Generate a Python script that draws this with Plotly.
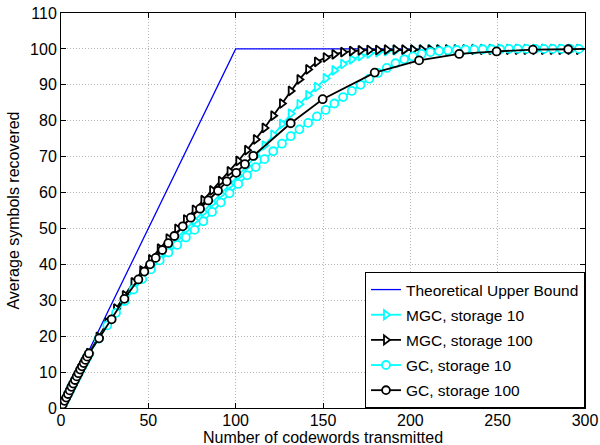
import plotly.graph_objects as go

# ---------------- data ----------------
bound_x = [0, 96, 100, 300]
bound_y = [0, 96.4, 100, 100]

x_dense = [1, 2, 3, 4, 5, 6, 7, 8, 9, 10, 11, 12, 13, 14, 15, 16,
           21.5, 26.5, 31.5, 36.5, 41.5, 46.5, 51.5, 56.5, 61.5, 66.5,
           71.5, 76.5, 81.5, 86.5, 91.5, 96.5, 101.5, 106.5, 111.5, 116.5,
           121.5, 126.5, 131.5, 136.5, 141.5, 146.5, 151.5, 156.5, 161.5, 166.5,
           171.5, 176.5, 181.5, 186.5, 191.5, 196.5, 201.5, 206.5, 211.5, 216.5,
           221.5, 226.5, 231.5, 236.5, 241.5, 246.5, 251.5, 256.5, 261.5, 266.5,
           271.5, 276.5, 281.5, 286.5, 291.5, 296.5]

mgc10_y = [1.0, 2.0, 2.9, 3.9, 4.9, 5.9, 6.8, 7.8, 8.8, 9.7, 10.7, 11.6, 12.5, 13.4, 14.3, 15.2,
           19.6, 23.6, 27.4, 30.9, 34.2, 37.2, 40.0, 42.6, 45.0, 47.4,
           49.8, 52.2, 54.6, 57.1, 59.6, 62.1, 64.7, 67.4, 70.2, 73.1,
           76.1, 79.1, 82.0, 84.6, 87.1, 89.4, 91.8, 94.0, 95.8, 97.1,
           98.0, 98.7, 99.1, 99.4, 99.6, 99.7, 99.8, 99.8, 99.9, 99.9,
           99.9, 99.9, 99.9, 100, 100, 100, 100, 100, 100, 100,
           100, 100, 100, 100, 100, 100]

mgc100_y = [1.0, 2.0, 2.9, 3.9, 4.9, 5.9, 6.8, 7.8, 8.8, 9.8, 10.8, 11.7, 12.6, 13.5, 14.4, 15.3,
            19.8, 23.8, 27.7, 31.4, 35.0, 38.3, 41.4, 44.4, 47.2, 49.9,
            52.5, 55.2, 57.9, 60.6, 63.2, 65.9, 68.8, 71.8, 74.8, 78.0,
            81.4, 84.8, 88.3, 91.5, 94.3, 96.4, 97.6, 98.5, 99.1, 99.4,
            99.6, 99.7, 99.7, 99.8, 99.8, 99.8, 99.8, 99.8, 99.8, 99.8,
            99.8, 99.8, 99.8, 99.8, 99.8, 99.8, 99.8, 99.8, 99.8, 99.8,
            99.8, 99.8, 99.8, 99.8, 99.8, 99.8]

gc10_y = [1.0, 1.9, 2.9, 3.9, 4.8, 5.8, 6.7, 7.7, 8.6, 9.6, 10.5, 11.4, 12.3, 13.2, 14.1, 15.0,
          19.3, 23.0, 26.5, 29.8, 33.0, 35.9, 38.6, 41.1, 43.3, 45.4,
          47.5, 49.6, 52.0, 54.6, 57.2, 59.8, 62.4, 64.8, 67.1, 69.3,
          71.5, 73.6, 75.7, 77.6, 79.4, 81.2, 83.0, 84.8, 86.6, 88.3,
          90.0, 91.7, 93.3, 94.7, 96.0, 97.1, 97.9, 98.6, 99.1, 99.4,
          99.6, 99.7, 99.8, 99.8, 99.9, 99.9, 99.9, 100, 100, 100,
          100, 100, 100, 100, 100, 100]

gc100_x = [1, 2, 3, 4, 5, 6, 7, 8, 9, 10, 11, 12, 13, 14, 15, 16,
           21.8, 29, 36.3, 44.3, 47.7, 51, 54.2, 58, 61.4, 64.9, 69.7, 74.3,
           79.6, 84.3, 89.9, 94.9, 100.3, 105.3, 110.1, 131.5, 149.8, 179.6,
           205, 228, 249.4, 270.2, 290.4, 300]
gc100_y = [1.0, 2.0, 2.9, 3.9, 4.9, 5.9, 6.8, 7.8, 8.8, 9.7, 10.7, 11.6, 12.5, 13.4, 14.3, 15.2,
           19.4, 24.7, 30.4, 35.8, 38.0, 40.0, 41.8, 44.0, 45.9, 47.9, 50.6, 53.0,
           55.5, 57.8, 60.5, 63.1, 65.5, 67.9, 70.2, 79.3, 86.0, 93.4,
           96.8, 98.6, 99.3, 99.8, 99.9, 100]

x_ticks = [0, 50, 100, 150, 200, 250, 300]
y_ticks = [0, 10, 20, 30, 40, 50, 60, 70, 80, 90, 100, 110]

x_title = "Number of codewords transmitted"
y_title = "Average symbols recovered"

# ---------------- styles ----------------
CYAN = "#00FFFF"
BLACK = "#000000"
FONT = "Liberation Sans"
FS = 16
MS = 8

gc100_sizes = [MS] * (len(gc100_x) - 1) + [0]

fig = go.Figure()
fig.add_trace(go.Scatter(x=bound_x, y=bound_y, mode="lines", name="Theoretical Upper Bound",
                         line=dict(color="#0000FF", width=1.3), legendgroup="a"))
fig.add_trace(go.Scatter(x=x_dense, y=mgc10_y, mode="lines+markers", name="MGC, storage 10",
                         line=dict(color=CYAN, width=1.8), legendgroup="b",
                         marker=dict(symbol="triangle-right", size=MS, color="white", opacity=1,
                                     line=dict(color=CYAN, width=1.8))))
fig.add_trace(go.Scatter(x=x_dense, y=mgc100_y, mode="lines+markers", name="MGC, storage 100",
                         line=dict(color=BLACK, width=1.8), legendgroup="c",
                         marker=dict(symbol="triangle-right", size=MS, color="white", opacity=1,
                                     line=dict(color=BLACK, width=1.8))))
fig.add_trace(go.Scatter(x=x_dense, y=gc10_y, mode="lines+markers", name="GC, storage 10",
                         line=dict(color=CYAN, width=1.8), legendgroup="d",
                         marker=dict(symbol="circle", size=MS, color="white", opacity=1,
                                     line=dict(color=CYAN, width=1.8))))
fig.add_trace(go.Scatter(x=gc100_x, y=gc100_y, mode="lines+markers", name="GC, storage 100",
                         line=dict(color=BLACK, width=1.8), legendgroup="e",
                         marker=dict(symbol="circle", size=gc100_sizes, color="white", opacity=1,
                                     line=dict(color=BLACK, width=1.8))))

axis_common = dict(
    showline=True, linecolor="black", linewidth=1, mirror="allticks",
    ticks="inside", ticklen=5, tickcolor="black",
    showgrid=True, gridcolor="#b4b4b4", griddash="1px,2px", gridwidth=1,
    zeroline=False, automargin=False,
    tickfont=dict(family=FONT, size=FS, color="black"),
)

fig.update_xaxes(range=[0, 300], tickvals=x_ticks, ticklabelstandoff=-2, **axis_common)
fig.update_yaxes(range=[0, 110], tickvals=y_ticks,
                 title=dict(text=y_title,
                            font=dict(family=FONT, size=FS, color="black"), standoff=6),
                 **axis_common)

fig.add_annotation(text=x_title, xref="paper", yref="paper", x=0.5, y=0,
                   xanchor="center", yanchor="middle", yshift=-29, showarrow=False,
                   font=dict(family=FONT, size=FS, color="black"))

fig.update_layout(
    width=600, height=445,
    margin=dict(l=61, r=15, t=13, b=37),
    paper_bgcolor="white", plot_bgcolor="white",
    font=dict(family=FONT, size=FS, color="black"),
    legend=dict(x=1, y=0, xanchor="right", yanchor="bottom",
                bordercolor="black", borderwidth=1, bgcolor="white",
                font=dict(family=FONT, size=15.5, color="black"),
                tracegroupgap=2, itemwidth=30),
    showlegend=True,
)

fig.write_html("out.html")
